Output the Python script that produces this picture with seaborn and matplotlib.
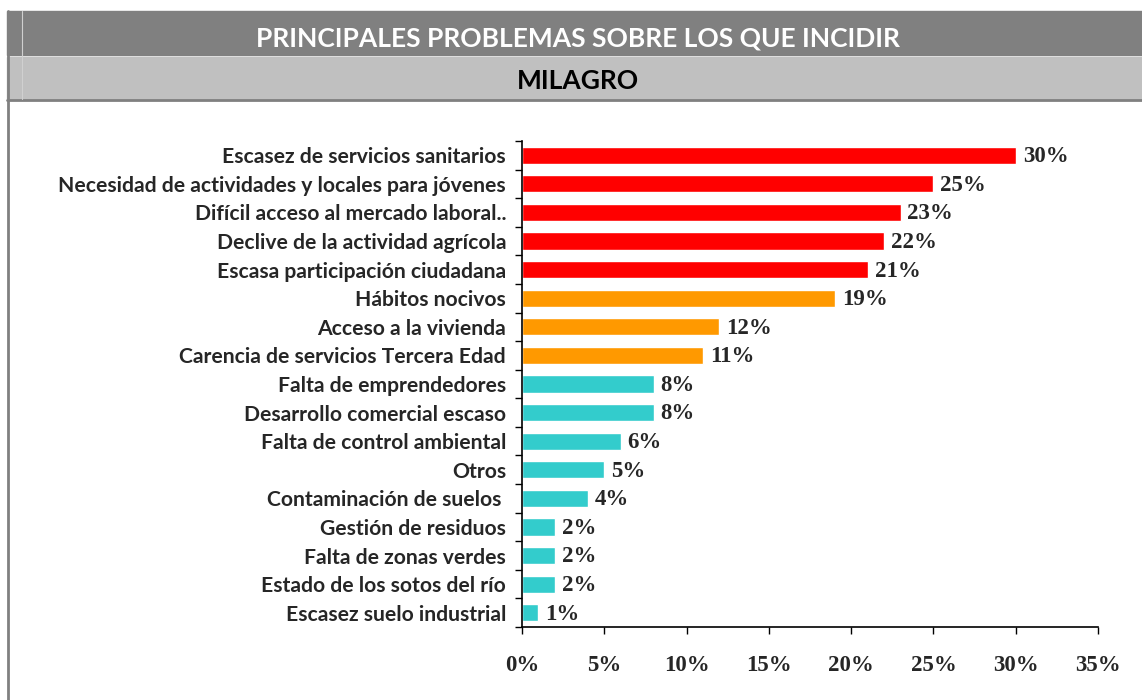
import matplotlib
matplotlib.use('Agg')
import matplotlib.pyplot as plt
import seaborn as sns
import pandas as pd
from matplotlib.patches import Rectangle
from matplotlib.lines import Line2D
from matplotlib.ticker import FixedLocator, PercentFormatter

# datos
problemas = [
    'Escasez de servicios sanitarios',
    'Necesidad de actividades y locales para jóvenes',
    'Difícil acceso al mercado laboral..',
    'Declive de la actividad agrícola',
    'Escasa participación ciudadana',
    'Hábitos nocivos',
    'Acceso a la vivienda',
    'Carencia de servicios Tercera Edad',
    'Falta de emprendedores',
    'Desarrollo comercial escaso',
    'Falta de control ambiental',
    'Otros',
    'Contaminación de suelos ',
    'Gestión de residuos',
    'Falta de zonas verdes',
    'Estado de los sotos del río',
    'Escasez suelo industrial',
]
porcentajes = [30, 25, 23, 22, 21, 19, 12, 11, 8, 8, 6, 5, 4, 2, 2, 2, 1]
grupo = ['alta'] * 5 + ['media'] * 3 + ['baja'] * 9
colores = {'alta': '#FF0000', 'media': '#FF9900', 'baja': '#33CCCC'}
ticks_x = [0, 5, 10, 15, 20, 25, 30, 35]

df = pd.DataFrame({'problema': problemas, 'pct': porcentajes, 'grupo': grupo})

sns.set_style('white')
W, H = 1142, 700
fig = plt.figure(figsize=(W / 100, H / 100), dpi=100)

# bandas de titulo
def px(x, y, w, h):
    return (x / W, 1 - (y + h) / H, w / W, h / H)

x0, y0, w0, h0 = px(7, 11, W - 7, 44)
fig.patches.append(Rectangle((x0, y0), w0, h0, transform=fig.transFigure, color='#808080', zorder=0))
x0, y0, w0, h0 = px(7, 57, W - 7, 42)
fig.patches.append(Rectangle((x0, y0), w0, h0, transform=fig.transFigure, color='#C0C0C0', zorder=0))
fig.lines.append(Line2D([7 / W, 1], [1 - 99.5 / H] * 2, transform=fig.transFigure, color='#808080', lw=2))
fig.lines.append(Line2D([7.5 / W] * 2, [0, 1 - 11 / H], transform=fig.transFigure, color='#808080', lw=2))
fig.lines.append(Line2D([22.5 / W] * 2, [1 - 99 / H, 1 - 11 / H], transform=fig.transFigure, color='#D0D0D0', lw=0.8))

fig.text(578 / W, 1 - 38 / H, 'PRINCIPALES PROBLEMAS SOBRE LOS QUE INCIDIR',
         ha='center', va='center', color='white', fontsize=19, fontweight='bold', family='Lato')
fig.text(578 / W, 1 - 81 / H, 'MILAGRO',
         ha='center', va='center', color='black', fontsize=19, fontweight='bold', family='Lato')

# grafico
ax = fig.add_axes([522 / W, 73 / H, 576 / W, 486 / H])
sns.barplot(data=df, y='problema', x='pct', hue='grupo', palette=colores,
            width=0.6, legend=False, ax=ax, saturation=1)

ax.set_xlim(0, 35)
ax.set_ylim(len(problemas) - 0.5, -0.5)
ax.set_xticks(ticks_x)
ax.xaxis.set_major_formatter(PercentFormatter(decimals=0))
ax.yaxis.set_minor_locator(FixedLocator([i - 0.5 for i in range(len(problemas) + 1)]))
ax.tick_params(axis='y', which='major', left=True, length=0, pad=11.5, labelsize=15.2)
ax.tick_params(axis='y', which='minor', left=True, length=5, width=1, color='black', direction='out')
ax.tick_params(axis='x', bottom=True, length=5, width=1, color='black', direction='out', pad=15)
for lab in ax.get_yticklabels():
    lab.set_fontfamily('Lato')
    lab.set_fontweight('bold')
for lab in ax.get_xticklabels():
    lab.set_fontfamily('Liberation Serif')
    lab.set_fontweight('bold')
    lab.set_fontsize(16.5)

for sp in ['top', 'right']:
    ax.spines[sp].set_visible(False)
for sp in ['left', 'bottom']:
    ax.spines[sp].set_color('black')
    ax.spines[sp].set_linewidth(1.2)

ax.set_xlabel('')
ax.set_ylabel('')

for i, v in enumerate(porcentajes):
    ax.annotate(f'{v}%', (v, i), xytext=(5, -1), textcoords='offset points',
                ha='left', va='center', fontsize=16.5, fontweight='bold', family='Liberation Serif')

fig.savefig('out.png', dpi=100)
